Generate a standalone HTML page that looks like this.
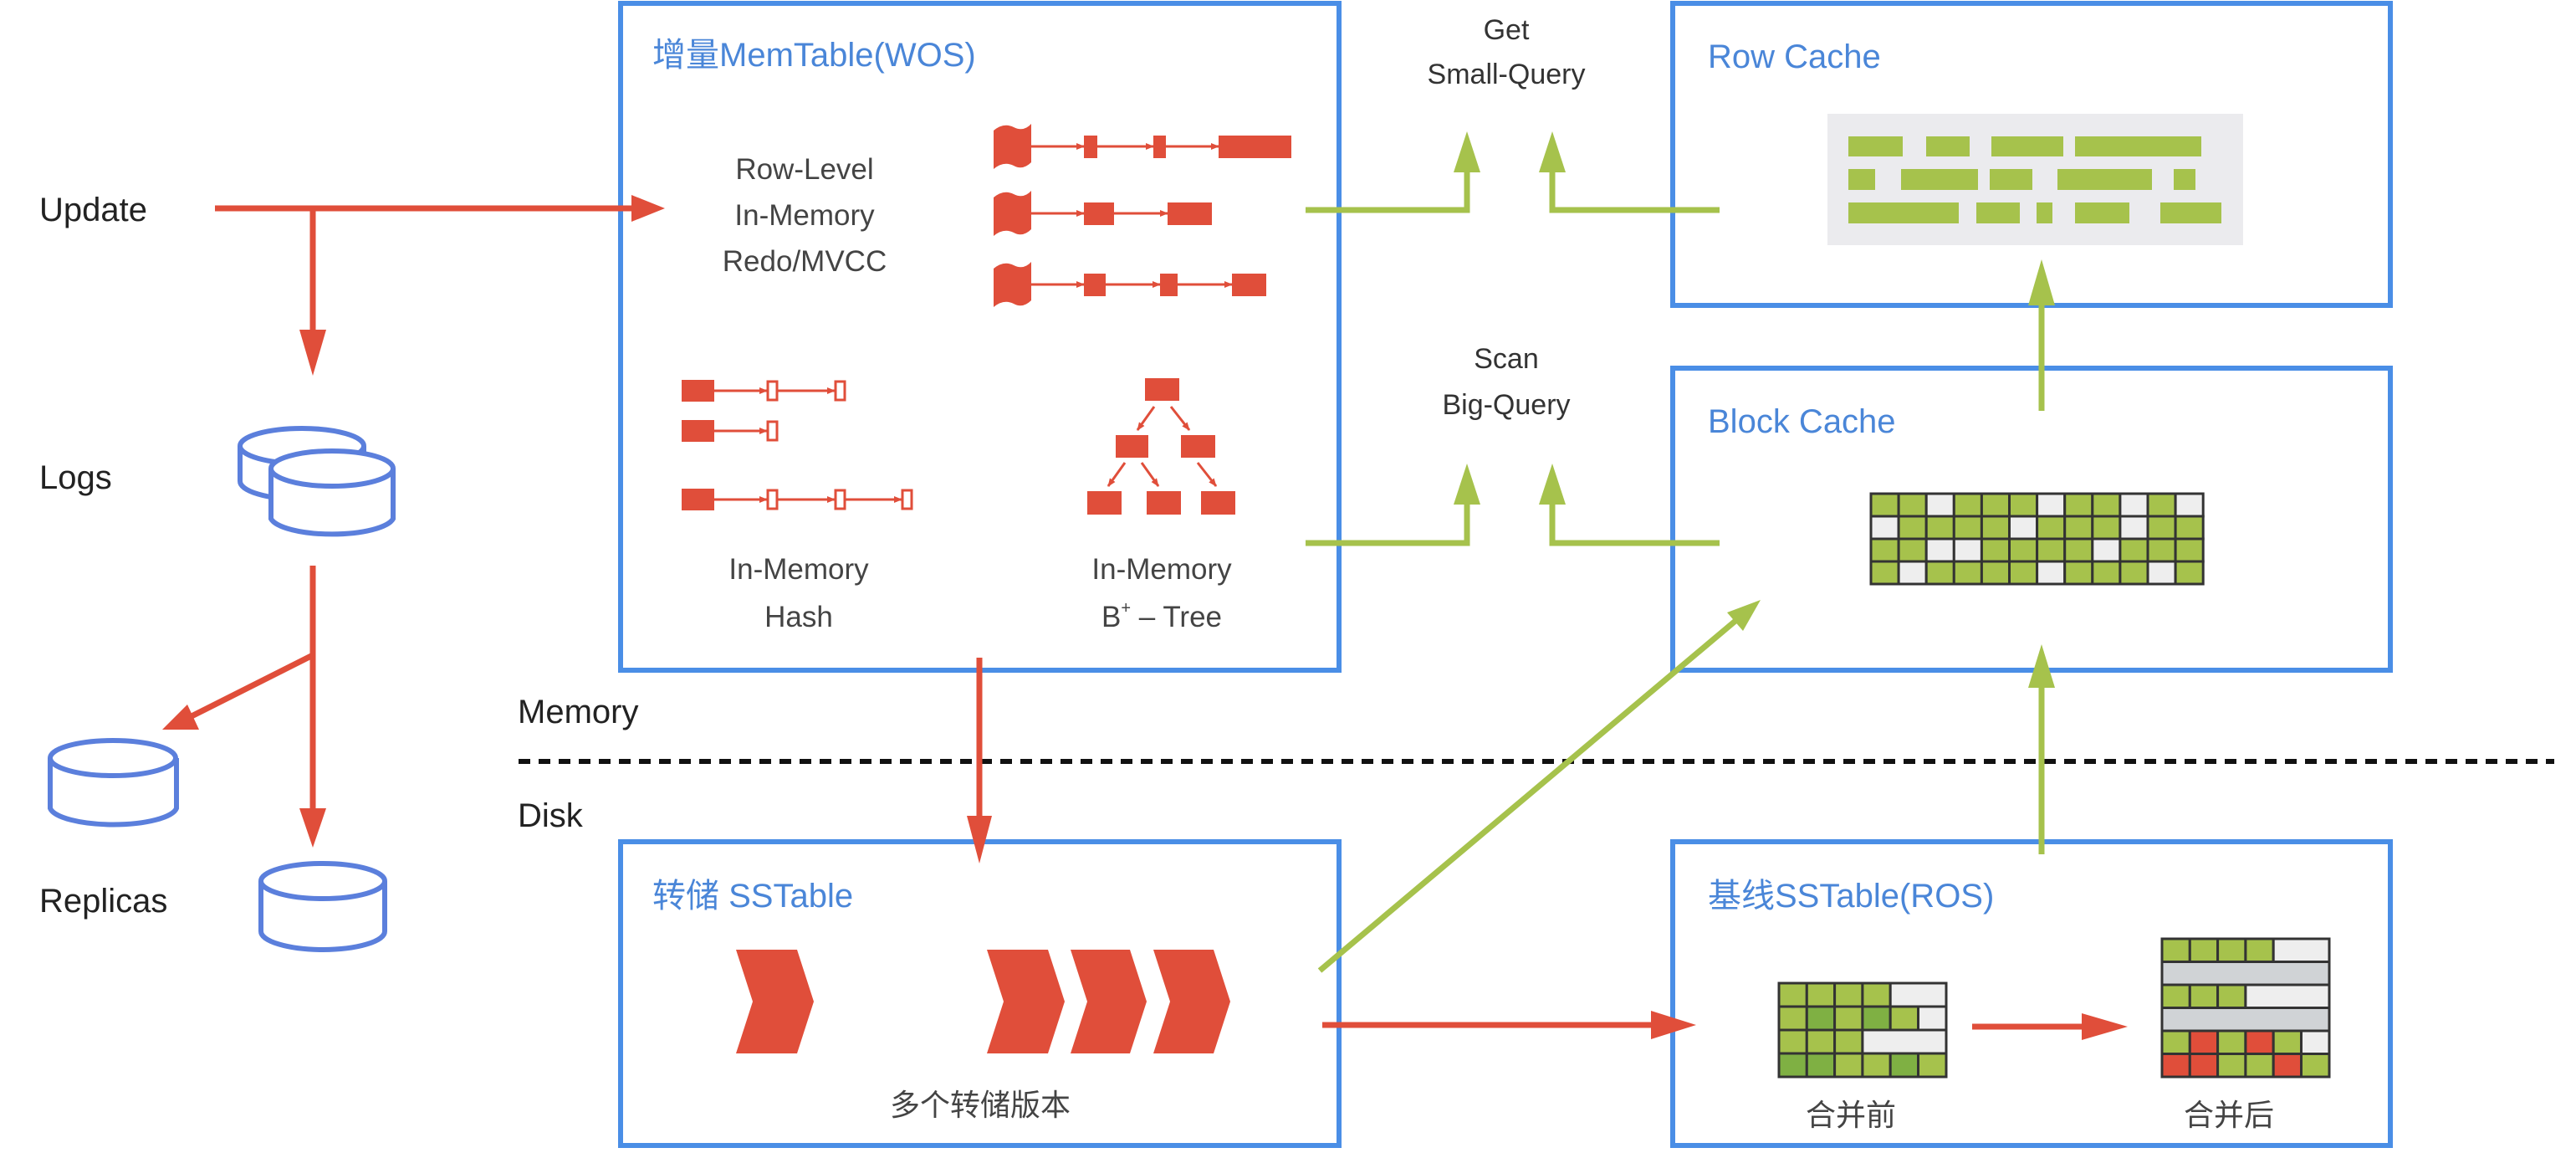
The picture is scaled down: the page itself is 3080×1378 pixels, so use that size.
<!DOCTYPE html>
<html><head><meta charset="utf-8"><style>
html,body{margin:0;padding:0;background:#fff;}
svg{display:block;}
text{font-family:"Liberation Sans","Noto Sans CJK SC",sans-serif;}
</style></head><body>
<svg width="3080" height="1378" viewBox="0 0 3080 1378" xmlns="http://www.w3.org/2000/svg">
<defs>
<marker id="sa" viewBox="0 0 10 10" refX="9" refY="5" markerWidth="10" markerHeight="10" markerUnits="userSpaceOnUse" orient="auto"><path d="M0,1 L10,5 L0,9 z" fill="#e04e3a"/></marker>
</defs>
<rect width="3080" height="1378" fill="#fff"/>
<!-- boxes -->
<g fill="none" stroke="#4a8ee6" stroke-width="6">
<rect x="742" y="4" width="859" height="797"/>
<rect x="2000" y="4" width="858" height="361"/>
<rect x="2000" y="440" width="858" height="361"/>
<rect x="742" y="1006" width="859" height="363"/>
<rect x="2000" y="1006" width="858" height="363"/>
</g>
<g fill="#4a86d8" font-size="40">
<text x="780" y="79">增量MemTable(WOS)</text>
<text x="2042" y="81">Row Cache</text>
<text x="2042" y="517">Block Cache</text>
<text x="780" y="1084">转储 SSTable</text>
<text x="2042" y="1084">基线SSTable(ROS)</text>
</g>
<!-- left labels -->
<g fill="#222" font-size="40">
<text x="47" y="264">Update</text>
<text x="47" y="584">Logs</text>
<text x="47" y="1090">Replicas</text>
<text x="619" y="864">Memory</text>
<text x="619" y="988">Disk</text>
</g>
<line x1="620" y1="910" x2="3054" y2="910" stroke="#111" stroke-width="6" stroke-dasharray="14,10"/>
<!-- red arrows -->
<g stroke="#e04e3a" stroke-width="7" fill="none">
<line x1="257" y1="249" x2="760" y2="249"/>
<line x1="374" y1="249" x2="374" y2="400"/>
<line x1="374" y1="676" x2="374" y2="970"/>
<line x1="374" y1="783" x2="225" y2="858"/>
<line x1="1171" y1="786" x2="1171" y2="980"/>
<line x1="1581" y1="1225" x2="1980" y2="1225"/>
<line x1="2358" y1="1227" x2="2495" y2="1227"/>
</g>
<g fill="#e04e3a">
<polygon points="795,249 755,233 755,265"/>
<polygon points="374,449 358,394 390,394"/>
<polygon points="374,1013 358,966 390,966"/>
<polygon points="194,872 224,842 238,872"/>
<polygon points="1171,1032 1156,975 1186,975"/>
<polygon points="2028,1225 1974,1208 1974,1242"/>
<polygon points="2544,1227 2489,1211 2489,1243"/>
</g>
<!-- green arrows -->
<g stroke="#a6c24c" stroke-width="7" fill="none">
<polyline points="1561,251 1754,251 1754,200"/>
<polyline points="2056,251 1856,251 1856,200"/>
<polyline points="1561,649 1754,649 1754,598"/>
<polyline points="2056,649 1856,649 1856,598"/>
<line x1="2441" y1="491" x2="2441" y2="350"/>
<line x1="2441" y1="1021" x2="2441" y2="810"/>
<line x1="1578" y1="1160" x2="2075" y2="742"/>
</g>
<g fill="#a6c24c">
<polygon points="1754,157 1738,206 1770,206"/>
<polygon points="1856,157 1840,206 1872,206"/>
<polygon points="1754,554 1738,603 1770,603"/>
<polygon points="1856,554 1840,603 1872,603"/>
<polygon points="2441,380 2425,435 2457,435" transform="translate(0,-70)"/>
<polygon points="2441,770 2425,822 2457,822"/>
<polygon points="2105,717 2065,732 2084,754"/>
</g>
<g fill="#333" font-size="34" text-anchor="middle">
<text x="1801" y="47">Get</text>
<text x="1801" y="100">Small-Query</text>
<text x="1801" y="440">Scan</text>
<text x="1801" y="495">Big-Query</text>
</g>
<!-- MemTable contents -->
<g fill="#444" font-size="35" text-anchor="middle">
<text x="962" y="214">Row-Level</text>
<text x="962" y="269">In-Memory</text>
<text x="962" y="324">Redo/MVCC</text>
<text x="955" y="692">In-Memory</text>
<text x="955" y="749">Hash</text>
<text x="1389" y="692">In-Memory</text>
<text x="1389" y="749">B<tspan font-size="20" dy="-16">+</tspan><tspan dy="16"> – Tree</tspan></text>
</g>
<!-- redo lists -->
<g fill="#e04e3a">
<path d="M1188,156 q12,-10 24,-4 q12,6 21,-4 v46 q-10,10 -21,4 q-12,-6 -24,4 z"/>
<path d="M1188,236 q12,-10 24,-4 q12,6 21,-4 v46 q-10,10 -21,4 q-12,-6 -24,4 z"/>
<path d="M1188,321 q12,-10 24,-4 q12,6 21,-4 v46 q-10,10 -21,4 q-12,-6 -24,4 z"/>
<rect x="1296" y="162" width="16" height="27"/>
<rect x="1379" y="162" width="15" height="27"/>
<rect x="1457" y="162" width="87" height="27"/>
<rect x="1296" y="242" width="36" height="27"/>
<rect x="1396" y="242" width="53" height="27"/>
<rect x="1296" y="327" width="26" height="27"/>
<rect x="1387" y="327" width="21" height="27"/>
<rect x="1473" y="327" width="41" height="27"/>
</g>
<g stroke="#e04e3a" stroke-width="3" marker-end="url(#sa)">
<line x1="1233" y1="175" x2="1296" y2="175"/>
<line x1="1312" y1="175" x2="1379" y2="175"/>
<line x1="1394" y1="175" x2="1457" y2="175"/>
<line x1="1233" y1="255" x2="1296" y2="255"/>
<line x1="1332" y1="255" x2="1396" y2="255"/>
<line x1="1233" y1="340" x2="1296" y2="340"/>
<line x1="1322" y1="340" x2="1387" y2="340"/>
<line x1="1408" y1="340" x2="1473" y2="340"/>
</g>
<!-- hash -->
<g fill="#e04e3a">
<rect x="815" y="454" width="39" height="26"/>
<rect x="815" y="502" width="39" height="26"/>
<rect x="815" y="584" width="39" height="26"/>
</g>
<g fill="#fff" stroke="#e04e3a" stroke-width="3">
<rect x="918" y="456" width="11" height="22"/>
<rect x="999" y="456" width="11" height="22"/>
<rect x="918" y="504" width="11" height="22"/>
<rect x="918" y="586" width="11" height="22"/>
<rect x="999" y="586" width="11" height="22"/>
<rect x="1079" y="586" width="11" height="22"/>
</g>
<g stroke="#e04e3a" stroke-width="3" marker-end="url(#sa)">
<line x1="854" y1="467" x2="917" y2="467"/>
<line x1="930" y1="467" x2="998" y2="467"/>
<line x1="854" y1="515" x2="917" y2="515"/>
<line x1="854" y1="597" x2="917" y2="597"/>
<line x1="930" y1="597" x2="998" y2="597"/>
<line x1="1011" y1="597" x2="1078" y2="597"/>
</g>
<!-- tree -->
<g fill="#e04e3a">
<rect x="1369" y="452" width="41" height="27"/>
<rect x="1334" y="520" width="39" height="27"/>
<rect x="1412" y="520" width="41" height="27"/>
<rect x="1300" y="587" width="41" height="28"/>
<rect x="1371" y="587" width="41" height="28"/>
<rect x="1436" y="587" width="41" height="28"/>
</g>
<g stroke="#e04e3a" stroke-width="3" marker-end="url(#sa)">
<line x1="1380" y1="486" x2="1360" y2="514"/>
<line x1="1400" y1="486" x2="1422" y2="514"/>
<line x1="1345" y1="553" x2="1325" y2="581"/>
<line x1="1365" y1="553" x2="1385" y2="581"/>
<line x1="1432" y1="553" x2="1454" y2="581"/>
</g>
<!-- cylinders -->
<g fill="#fff" stroke="#5b7fdc" stroke-width="6">
<path d="M287,533 v42 a74,22 0 0 0 148,0 v-42"/>
<ellipse cx="361" cy="533" rx="74" ry="21"/>
<path d="M324,560 v60 a74,22 0 0 0 146,0 v-60"/>
<ellipse cx="397" cy="560" rx="73" ry="21"/>
<path d="M60,906 v60 a76,22 0 0 0 151,0 v-60"/>
<ellipse cx="135" cy="906" rx="75" ry="21"/>
<path d="M312,1053 v60 a74,22 0 0 0 148,0 v-60"/>
<ellipse cx="386" cy="1053" rx="74" ry="21"/>
</g>
<!-- row cache -->
<rect x="2185" y="136" width="497" height="157" fill="#ebebee"/>
<g fill="#a6c24c">
<rect x="2210" y="163" width="65" height="24"/><rect x="2303" y="163" width="52" height="24"/><rect x="2381" y="163" width="86" height="24"/><rect x="2481" y="163" width="151" height="24"/>
<rect x="2210" y="202" width="32" height="25"/><rect x="2273" y="202" width="92" height="25"/><rect x="2379" y="202" width="51" height="25"/><rect x="2460" y="202" width="113" height="25"/><rect x="2599" y="202" width="26" height="25"/>
<rect x="2210" y="242" width="132" height="25"/><rect x="2363" y="242" width="52" height="25"/><rect x="2435" y="242" width="19" height="25"/><rect x="2481" y="242" width="65" height="25"/><rect x="2583" y="242" width="73" height="25"/>
</g>
<!-- block cache grid -->
<g stroke="#333" stroke-width="3">
<g fill="#a6c24c">
<rect x="2237" y="590" width="33.1" height="27"/><rect x="2270.1" y="590" width="33.1" height="27"/><rect x="2303.2" y="590" width="33.1" height="27" fill="#eee"/><rect x="2336.3" y="590" width="33.1" height="27"/><rect x="2369.4" y="590" width="33.1" height="27"/><rect x="2402.5" y="590" width="33.1" height="27"/><rect x="2435.6" y="590" width="33.1" height="27" fill="#eee"/><rect x="2468.7" y="590" width="33.1" height="27"/><rect x="2501.8" y="590" width="33.1" height="27"/><rect x="2534.9" y="590" width="33.1" height="27" fill="#eee"/><rect x="2568" y="590" width="33.1" height="27"/><rect x="2601.1" y="590" width="33.1" height="27" fill="#eee"/>
<rect x="2237" y="617" width="33.1" height="27" fill="#eee"/><rect x="2270.1" y="617" width="33.1" height="27"/><rect x="2303.2" y="617" width="33.1" height="27"/><rect x="2336.3" y="617" width="33.1" height="27"/><rect x="2369.4" y="617" width="33.1" height="27"/><rect x="2402.5" y="617" width="33.1" height="27" fill="#eee"/><rect x="2435.6" y="617" width="33.1" height="27"/><rect x="2468.7" y="617" width="33.1" height="27"/><rect x="2501.8" y="617" width="33.1" height="27"/><rect x="2534.9" y="617" width="33.1" height="27" fill="#eee"/><rect x="2568" y="617" width="33.1" height="27"/><rect x="2601.1" y="617" width="33.1" height="27"/>
<rect x="2237" y="644" width="33.1" height="27"/><rect x="2270.1" y="644" width="33.1" height="27"/><rect x="2303.2" y="644" width="33.1" height="27" fill="#eee"/><rect x="2336.3" y="644" width="33.1" height="27" fill="#eee"/><rect x="2369.4" y="644" width="33.1" height="27"/><rect x="2402.5" y="644" width="33.1" height="27"/><rect x="2435.6" y="644" width="33.1" height="27"/><rect x="2468.7" y="644" width="33.1" height="27"/><rect x="2501.8" y="644" width="33.1" height="27" fill="#eee"/><rect x="2534.9" y="644" width="33.1" height="27"/><rect x="2568" y="644" width="33.1" height="27"/><rect x="2601.1" y="644" width="33.1" height="27"/>
<rect x="2237" y="671" width="33.1" height="27"/><rect x="2270.1" y="671" width="33.1" height="27" fill="#eee"/><rect x="2303.2" y="671" width="33.1" height="27"/><rect x="2336.3" y="671" width="33.1" height="27"/><rect x="2369.4" y="671" width="33.1" height="27"/><rect x="2402.5" y="671" width="33.1" height="27"/><rect x="2435.6" y="671" width="33.1" height="27" fill="#eee"/><rect x="2468.7" y="671" width="33.1" height="27"/><rect x="2501.8" y="671" width="33.1" height="27"/><rect x="2534.9" y="671" width="33.1" height="27"/><rect x="2568" y="671" width="33.1" height="27" fill="#eee"/><rect x="2601.1" y="671" width="33.1" height="27"/>
</g>
<!-- before grid -->
<g fill="#a6c24c">
<rect x="2127" y="1175" width="33.3" height="28"/><rect x="2160.3" y="1175" width="33.3" height="28"/><rect x="2193.6" y="1175" width="33.3" height="28"/><rect x="2226.9" y="1175" width="33.3" height="28"/><rect x="2260.2" y="1175" width="66.8" height="28" fill="#eee"/>
<rect x="2127" y="1203" width="33.3" height="28"/><rect x="2160.3" y="1203" width="33.3" height="28" fill="#7fb043"/><rect x="2193.6" y="1203" width="33.3" height="28"/><rect x="2226.9" y="1203" width="33.3" height="28" fill="#7fb043"/><rect x="2260.2" y="1203" width="33.3" height="28"/><rect x="2293.5" y="1203" width="33.5" height="28" fill="#eee"/>
<rect x="2127" y="1231" width="33.3" height="28"/><rect x="2160.3" y="1231" width="33.3" height="28"/><rect x="2193.6" y="1231" width="33.3" height="28"/><rect x="2226.9" y="1231" width="100.1" height="28" fill="#eee"/>
<rect x="2127" y="1259" width="33.3" height="28" fill="#7fb043"/><rect x="2160.3" y="1259" width="33.3" height="28" fill="#7fb043"/><rect x="2193.6" y="1259" width="33.3" height="28"/><rect x="2226.9" y="1259" width="33.3" height="28"/><rect x="2260.2" y="1259" width="33.3" height="28" fill="#7fb043"/><rect x="2293.5" y="1259" width="33.5" height="28"/>
</g>
<!-- after grid -->
<g fill="#a6c24c">
<rect x="2585" y="1122" width="33.3" height="27.5"/><rect x="2618.3" y="1122" width="33.3" height="27.5"/><rect x="2651.6" y="1122" width="33.3" height="27.5"/><rect x="2684.9" y="1122" width="33.3" height="27.5"/><rect x="2718.2" y="1122" width="66.8" height="27.5" fill="#eee"/>
<rect x="2585" y="1149.5" width="200" height="27.5" fill="#d0d3d6"/>
<rect x="2585" y="1177" width="33.3" height="27.5"/><rect x="2618.3" y="1177" width="33.3" height="27.5"/><rect x="2651.6" y="1177" width="33.3" height="27.5"/><rect x="2684.9" y="1177" width="100.1" height="27.5" fill="#eee"/>
<rect x="2585" y="1204.5" width="200" height="27.5" fill="#d0d3d6"/>
<rect x="2585" y="1232" width="33.3" height="27.5"/><rect x="2618.3" y="1232" width="33.3" height="27.5" fill="#e04e3a"/><rect x="2651.6" y="1232" width="33.3" height="27.5"/><rect x="2684.9" y="1232" width="33.3" height="27.5" fill="#e04e3a"/><rect x="2718.2" y="1232" width="33.3" height="27.5"/><rect x="2751.5" y="1232" width="33.5" height="27.5" fill="#eee"/>
<rect x="2585" y="1259.5" width="33.3" height="27.5" fill="#e04e3a"/><rect x="2618.3" y="1259.5" width="33.3" height="27.5" fill="#e04e3a"/><rect x="2651.6" y="1259.5" width="33.3" height="27.5"/><rect x="2684.9" y="1259.5" width="33.3" height="27.5"/><rect x="2718.2" y="1259.5" width="33.3" height="27.5" fill="#e04e3a"/><rect x="2751.5" y="1259.5" width="33.5" height="27.5"/>
</g>
</g>
<g fill="#444" font-size="36" text-anchor="middle">
<text x="2213" y="1345">合并前</text>
<text x="2665" y="1345">合并后</text>
<text x="1172" y="1333">多个转储版本</text>
</g>
<!-- chevrons -->
<g fill="#e04e3a">
<polygon points="880,1135 953,1135 973,1197 953,1259 880,1259 900,1197"/>
<polygon points="1180,1135 1253,1135 1273,1197 1253,1259 1180,1259 1200,1197"/>
<polygon points="1280,1135 1351,1135 1371,1197 1351,1259 1280,1259 1300,1197"/>
<polygon points="1379,1135 1451,1135 1471,1197 1451,1259 1379,1259 1399,1197"/>
</g>
</svg>
</body></html>
